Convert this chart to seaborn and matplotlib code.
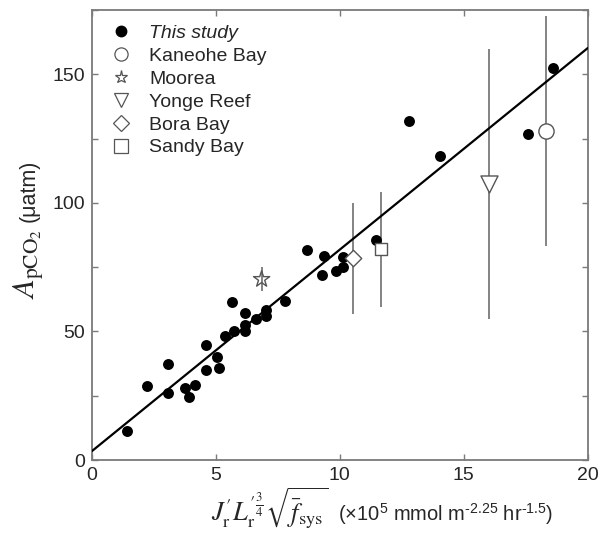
import numpy as np
import pandas as pd
import matplotlib
matplotlib.use("Agg")
import matplotlib.pyplot as plt
from matplotlib.lines import Line2D
from matplotlib.ticker import MultipleLocator
import seaborn as sns

# ---- data: this study ----
study_x = [1.41, 2.24, 3.09, 3.09, 3.76, 3.92, 4.16, 4.60, 4.60, 5.05, 5.12, 5.36,
           5.66, 5.75, 6.18, 6.18, 6.18, 6.63, 7.02, 7.02, 7.79, 8.68, 9.35, 9.27,
           9.85, 10.15, 10.15, 11.45, 12.81, 14.03, 17.60, 18.59]
study_y = [11.3, 28.7, 37.4, 25.9, 27.9, 24.6, 29.0, 44.7, 35.1, 39.9, 35.8, 48.2,
           61.3, 50.2, 57.3, 52.4, 50.2, 55.0, 58.3, 55.9, 62.0, 81.5, 79.2, 71.8,
           73.5, 78.8, 75.2, 85.5, 131.7, 118.1, 126.7, 152.3]

# ---- data: other sites ----
sites = ["Kaneohe Bay", "Moorea", "Yonge Reef", "Bora Bay", "Sandy Bay"]
site_x = [18.32, 6.85, 16.03, 10.54, 11.67]
site_y = [128.0, 70.3, 107.4, 78.4, 81.9]
site_err = [44.8, 4.7, 52.4, 21.5, 22.3]
site_markers = ["o", "*", "v", "D", "s"]
site_sizes = [120, 150, 150, 70, 75]

x_ticks = [0, 5, 10, 15, 20]
y_ticks = [0, 50, 100, 150]

study = pd.DataFrame({"x": study_x, "y": study_y})
others = pd.DataFrame({"site": sites, "x": site_x, "y": site_y, "err": site_err})

sns.set_style("ticks")
plt.rcParams["font.family"] = ["Liberation Sans", "DejaVu Sans"]
plt.rcParams["mathtext.fontset"] = "custom"
plt.rcParams["mathtext.rm"] = "Liberation Sans"
plt.rcParams["mathtext.it"] = "Liberation Sans:italic"
plt.rcParams["mathtext.bf"] = "Liberation Sans:bold"

W, H = 601, 540
fig = plt.figure(figsize=(W / 100, H / 100), dpi=100)
ax = fig.add_axes([0.1526, 0.148, 0.8254, 0.8335])
ax.set_xlim(0, 20)
ax.set_ylim(0, 175)

gray = "#7a7a7a"
edge = "#555555"

# error bars
ax.errorbar(others["x"], others["y"], yerr=others["err"], fmt="none",
            ecolor=gray, elinewidth=1.3, capsize=0, zorder=2)

# regression line
sns.regplot(data=study, x="x", y="y", scatter=False, ci=None, truncate=False,
            color="black", line_kws={"lw": 1.6, "zorder": 3}, ax=ax)

# this study points
sns.scatterplot(data=study, x="x", y="y", color="black", s=62, edgecolor="black",
                linewidth=0, zorder=4, ax=ax, legend=False)

# other sites
for i, row in others.iterrows():
    sns.scatterplot(x=[row["x"]], y=[row["y"]], marker=site_markers[i], s=site_sizes[i],
                    facecolor="white" if site_markers[i] in ("o", "s", "D", "v") else "none",
                    edgecolor=edge, linewidth=1.0, zorder=5, ax=ax, legend=False)

ax.set_xlim(0, 20)
ax.set_ylim(0, 175)
ax.set_xticks(x_ticks)
ax.set_yticks(y_ticks)
ax.yaxis.set_minor_locator(MultipleLocator(25))
ax.tick_params(which="both", direction="in", length=4, width=1, color=gray,
               top=True, right=True, labelsize=14, pad=5)
for sp in ax.spines.values():
    sp.set_visible(True)
    sp.set_color(gray)
    sp.set_linewidth(1.3)
ax.set_xlabel("")
ax.set_ylabel("")

# x label: math part (serif, large) + units (sans)
fig.text(328 / W, 1 - 521 / H,
         r"$J^{\prime}_{\mathrm{r}}L^{\prime\frac{3}{4}}_{\mathrm{r}}\sqrt{\bar{f}_{\mathrm{sys}}}$",
         fontsize=19, ha="right", va="baseline", math_fontfamily="stix")
fig.text(338 / W, 1 - 521 / H,
         r"(×10$^{5}$ mmol m$^{\text{-}2.25}$ hr$^{\text{-}1.5}$)",
         fontsize=14.5, ha="left", va="baseline")

# y label
fig.text(35 / W, 1 - 229 / H, r"$\mathit{A}_{\mathrm{pCO_2}}$",
         fontsize=22, rotation=90, rotation_mode="anchor", ha="right", va="baseline",
         math_fontfamily="stix")
fig.text(35 / W, 1 - 222 / H, "(μatm)",
         fontsize=15.5, rotation=90, rotation_mode="anchor", ha="left", va="baseline")

# legend
handles = [Line2D([], [], ls="none", marker="o", color="black", markersize=7.5)]
for m in site_markers:
    handles.append(Line2D([], [], ls="none", marker=m, markerfacecolor="none",
                          markeredgecolor=edge, markersize=9.5 if m != "D" else 8,
                          markeredgewidth=0.9))
leg = ax.legend(handles, ["This study"] + sites, loc="upper left", frameon=False,
                fontsize=14, handletextpad=0.7, labelspacing=0.27,
                borderaxespad=0.35, handlelength=1.5)
leg.get_texts()[0].set_fontstyle("italic")

fig.savefig("out.png", dpi=100)
